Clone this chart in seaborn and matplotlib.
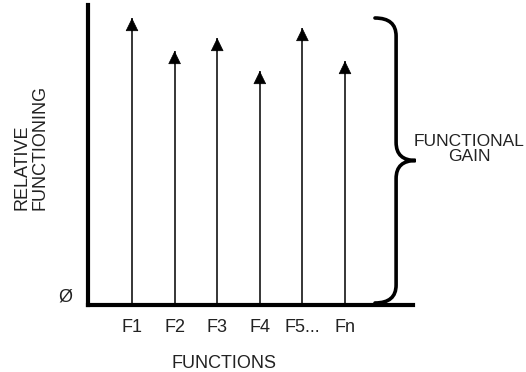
import numpy as np
import seaborn as sns
import matplotlib.pyplot as plt
from matplotlib.path import Path
from matplotlib.patches import PathPatch
from matplotlib.transforms import blended_transform_factory

functions = ["F1", "F2", "F3", "F4", "F5...", "Fn"]
relative_functioning = [287, 254, 267, 234, 277, 244]
y_top = 300

sns.set_style("white")
plt.rcParams["font.family"] = ["Liberation Sans", "DejaVu Sans"]

fig = plt.figure(figsize=(5.26, 3.72), dpi=100)
ax = fig.add_axes([88 / 526, 67 / 372, 325 / 526, 300 / 372])

# stems: zero-width seaborn bars, only the outline shows
sns.barplot(x=functions, y=relative_functioning, color="black", width=0.0001,
            linewidth=1.1, edgecolor="black", saturation=1, ax=ax)

# arrow heads on top of each stem
for i, v in enumerate(relative_functioning):
    ax.annotate("", xy=(i, v), xytext=(i, v - 13),
                arrowprops=dict(arrowstyle="-|>,head_length=0.86,head_width=0.42",
                                color="black", lw=0.5, shrinkA=0, shrinkB=0))

ax.set_xlim(-1.033, 6.596)
ax.set_ylim(0, y_top)
sns.despine(ax=ax)
for side in ["left", "bottom"]:
    ax.spines[side].set_linewidth(3)
    ax.spines[side].set_color("black")

ax.set_yticks([0])
ax.set_yticklabels(["Ø"], va="bottom")
ax.tick_params(axis="both", length=0, labelsize=13, colors="#222222")
ax.tick_params(axis="x", pad=10)
ax.tick_params(axis="y", pad=11)
ax.set_xlabel("FUNCTIONS", fontsize=13, color="#222222")
ax.xaxis.set_label_coords((224 - 88) / 325, -0.165)
ax.set_ylabel("")

fig.text(31 / 526, (372 - 147) / 372, "RELATIVE\nFUNCTIONING", rotation=90,
         ha="center", va="center", multialignment="left", fontsize=13,
         color="#222222", linespacing=1.05)

# curly brace spanning the gain
tr = blended_transform_factory(ax.transAxes, ax.transData)
top = max(relative_functioning)
bot = 2
mid = (top + bot) / 2
x0, x1, x2 = 0.883, 0.948, 1.008
r = 18
verts = [(x0, top), (x1, top), (x1, top - r),
         (x1, mid + r), (x1, mid), (x2, mid),
         (x1, mid), (x1, mid - r),
         (x1, bot + r), (x1, bot), (x0, bot)]
codes = [Path.MOVETO, Path.CURVE3, Path.CURVE3,
         Path.LINETO, Path.CURVE3, Path.CURVE3,
         Path.CURVE3, Path.CURVE3,
         Path.LINETO, Path.CURVE3, Path.CURVE3]
ax.add_patch(PathPatch(Path(verts, codes), transform=tr, fill=False,
                       lw=2.6, color="black", clip_on=False, capstyle="round"))

fig.text(469 / 526, (372 - 149) / 372, "FUNCTIONAL\nGAIN", ha="center",
         va="center", multialignment="center", fontsize=12.5, color="#222222",
         linespacing=1.05)

plt.savefig("out.png", dpi=100)
